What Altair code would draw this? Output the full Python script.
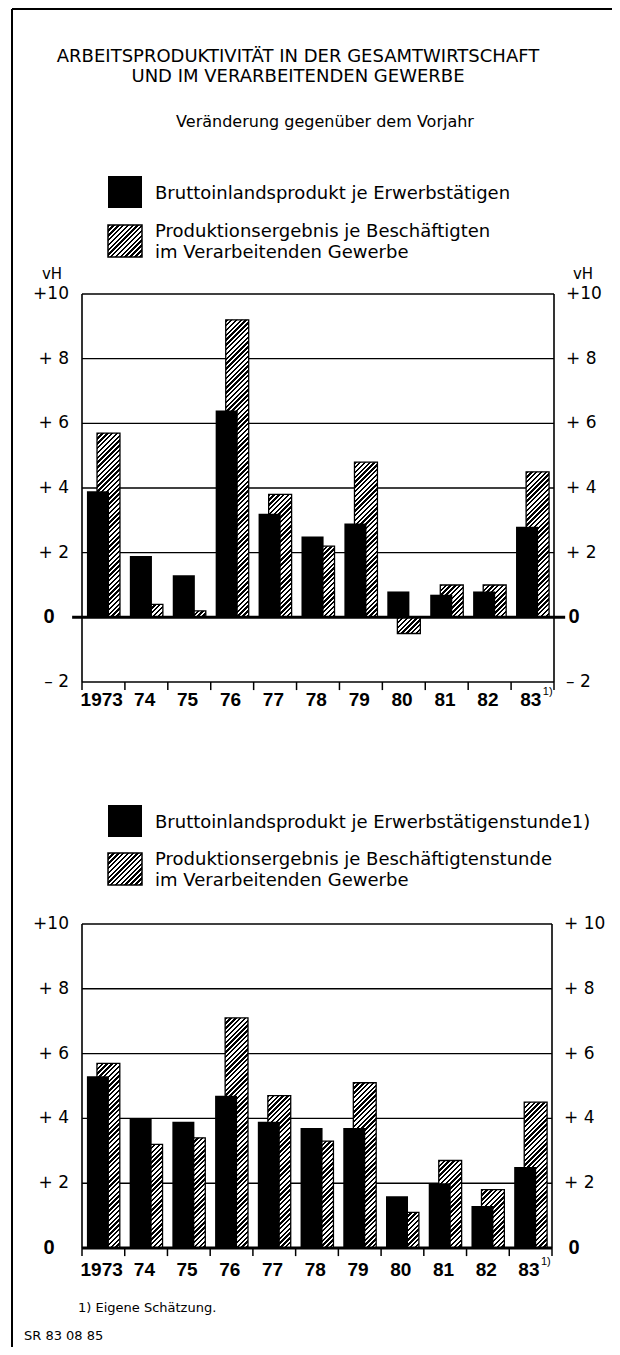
import altair as alt

# ---------------- data ----------------
years = ["1973", "74", "75", "76", "77", "78", "79", "80", "81", "82", "83"]
bip_top = [3.9, 1.9, 1.3, 6.4, 3.2, 2.5, 2.9, 0.8, 0.7, 0.8, 2.8]
prod_top = [5.7, 0.4, 0.2, 9.2, 3.8, 2.2, 4.8, -0.5, 1.0, 1.0, 4.5]
bip_bot = [5.3, 4.0, 3.9, 4.7, 3.9, 3.7, 3.7, 1.6, 2.0, 1.3, 2.5]
prod_bot = [5.7, 3.2, 3.4, 7.1, 4.7, 3.3, 5.1, 1.1, 2.7, 1.8, 4.5]

top_tick_vals = [10, 8, 6, 4, 2, -2]
top_left_text = ["+10", "+  8", "+  6", "+  4", "+  2", "\u2013  2"]
top_right_text = ["+10", "+  8", "+  6", "+  4", "+  2", "\u2013  2"]
top_grid = [2, 4, 6, 8, 10]
bot_tick_vals = [10, 8, 6, 4, 2]
bot_left_text = ["+10", "+  8", "+  6", "+  4", "+  2"]
bot_right_text = ["+ 10", "+  8", "+  6", "+  4", "+  2"]
bot_grid = [2, 4, 6, 8, 10]
boundaries = list(range(0, 12))

TITLE1 = "ARBEITSPRODUKTIVITÄT IN DER GESAMTWIRTSCHAFT"
TITLE2 = "UND IM VERARBEITENDEN GEWERBE"
SUBTITLE = "Veränderung  gegenüber dem Vorjahr"
LEG_TOP_1 = "Bruttoinlandsprodukt je Erwerbstätigen"
LEG_TOP_2 = ["Produktionsergebnis je Beschäftigten", "im Verarbeitenden Gewerbe"]
LEG_BOT_1 = "Bruttoinlandsprodukt je Erwerbstätigenstunde1)"
LEG_BOT_2 = ["Produktionsergebnis je Beschäftigtenstunde", "im Verarbeitenden Gewerbe"]
FOOTNOTE = "1) Eigene Schätzung."
SOURCE = "SR 83 08 85"

# ---------------- layout ----------------
W, H = 604, 1339
SANS = "'DejaVu Sans', sans-serif"
BOLDFONT = "'Liberation Sans', Arial, sans-serif"

XR_TOP = [74, 546]
YR_TOP = [674, 286]      # domain -2..10
XR_BOT = [74, 544]
YR_BOT = [1240, 916]     # domain 0..10

BLACK_X = (0.115, 0.63)
HATCH_X = (0.35, 0.885)


def xscale(r):
    return alt.Scale(domain=[0, 11], range=r, zero=False, nice=False)


def yscale(dom, r):
    return alt.Scale(domain=dom, range=r, zero=False, nice=False)


def hatch(w, h, q=4.8, frac=0.5):
    """Diagonal hatch as a linear gradient in bounding-box units."""
    w = max(w, 1.0)
    h = max(h, 1.0)
    s = w + h
    k = s / (w * w + h * h)
    n = s / q
    stops = []
    j = 0
    while j < n:
        a = round(j / n, 5)
        b = round(min((j + frac) / n, 1.0), 5)
        c = round(min((j + 1) / n, 1.0), 5)
        stops += [
            {"offset": a, "color": "black"},
            {"offset": b, "color": "black"},
            {"offset": b, "color": "white"},
            {"offset": c, "color": "white"},
        ]
        j += 1
    return {"gradient": "linear", "x1": 0, "y1": 0,
            "x2": round(k * w, 5), "y2": round(k * h, 5), "stops": stops}


def blank():
    return alt.Chart(alt.Data(values=[{}]))


def text(t, x, y, size, font=SANS, weight="normal", align="left", baseline="middle"):
    return blank().mark_text(text=t, fontSize=size, font=font, fontWeight=weight,
                             align=align, baseline=baseline, color="black").encode(
        x=alt.value(x), y=alt.value(y))


def panel(bvals, pvals, xr, ydom, yr, tick_vals, left_text, right_text, grid,
          zero_ext, label_y, with_vh):
    xs = xscale(xr)
    ys = yscale(ydom, yr)
    pxu_x = (xr[1] - xr[0]) / 11.0
    pxu_y = (yr[0] - yr[1]) / float(ydom[1] - ydom[0])
    rows = []
    for i, (yl, b, p) in enumerate(zip(years, bvals, pvals)):
        rows.append({"i": i, "year": yl, "bip": b, "prod": p,
                     "grad": hatch((HATCH_X[1] - HATCH_X[0]) * pxu_x, abs(p) * pxu_y)})
    data = alt.Data(values=rows)
    layers = []
    # grid lines
    layers.append(alt.Chart(alt.Data(values=[{"v": g} for g in grid])).mark_rule(
        color="black", strokeWidth=1.4).encode(
        y=alt.Y("v:Q", scale=ys, axis=None),
        x=alt.X(datum=0, scale=xs, axis=None), x2=alt.X2(datum=11)))
    # hatched bars
    layers.append(alt.Chart(data).transform_calculate(
        xa="datum.i + %f" % HATCH_X[0], xb="datum.i + %f" % HATCH_X[1]).mark_rect(
        stroke="black", strokeWidth=1.3).encode(
        x=alt.X("xa:Q", scale=xs, axis=None), x2="xb:Q",
        y=alt.Y("prod:Q", scale=ys, axis=None), y2=alt.Y2(datum=0),
        fill=alt.Fill("grad:N", scale=None, legend=None)))
    # black bars
    layers.append(alt.Chart(data).transform_calculate(
        xa="datum.i + %f" % BLACK_X[0], xb="datum.i + %f" % BLACK_X[1]).mark_rect(
        color="black").encode(
        x=alt.X("xa:Q", scale=xs, axis=None), x2="xb:Q",
        y=alt.Y("bip:Q", scale=ys, axis=None), y2=alt.Y2(datum=0)))
    # frame of the plot: bottom line, verticals
    layers.append(blank().mark_rule(color="black", strokeWidth=1.6).encode(
        y=alt.Y(datum=ydom[0], scale=ys, axis=None),
        x=alt.X(datum=0, scale=xs, axis=None), x2=alt.X2(datum=11)))
    layers.append(alt.Chart(alt.Data(values=[{"b": 0}, {"b": 11}])).mark_rule(
        color="black", strokeWidth=1.6).encode(
        x=alt.X("b:Q", scale=xs, axis=None),
        y=alt.Y(datum=ydom[0], scale=ys, axis=None), y2=alt.Y2(datum=10)))
    # zero line
    layers.append(blank().mark_rule(color="black", strokeWidth=3).encode(
        y=alt.Y(datum=0, scale=ys, axis=None),
        x=alt.X(datum=zero_ext[0], scale=xs, axis=None), x2=alt.X2(datum=zero_ext[1])))
    # x ticks (below the lower line)
    layers.append(alt.Chart(alt.Data(values=[{"b": b} for b in boundaries])).transform_calculate(
        ya=str(ydom[0]), yb=str(ydom[0] - 0.25)).mark_rule(
        color="black", strokeWidth=1.5).encode(
        x=alt.X("b:Q", scale=xs, axis=None),
        y=alt.Y("ya:Q", scale=ys, axis=None), y2="yb:Q"))
    # year labels
    layers.append(alt.Chart(data).transform_calculate(c="datum.i + 0.46").mark_text(
        font=BOLDFONT, fontSize=19, fontWeight="bold", baseline="middle", align="center",
        color="black").encode(
        x=alt.X("c:Q", scale=xs, axis=None), y=alt.value(label_y), text="year:N"))
    layers.append(alt.Chart(alt.Data(values=[{"c": 10.46}])).mark_text(
        text="1)", font=BOLDFONT, fontSize=11, baseline="middle", align="left",
        dx=12, color="black").encode(
        x=alt.X("c:Q", scale=xs, axis=None), y=alt.value(label_y - 8)))
    # y tick labels
    lrows = [{"v": v, "t": t} for v, t in zip(tick_vals, left_text)]
    rrows = [{"v": v, "t": t} for v, t in zip(tick_vals, right_text)]
    layers.append(alt.Chart(alt.Data(values=lrows)).mark_text(
        font=SANS, fontSize=17, align="right", baseline="middle", color="black").encode(
        x=alt.value(61), y=alt.Y("v:Q", scale=ys, axis=None), text="t:N"))
    layers.append(alt.Chart(alt.Data(values=rrows)).mark_text(
        font=SANS, fontSize=17, align="left", baseline="middle", color="black").encode(
        x=alt.value(xr[1] + 12), y=alt.Y("v:Q", scale=ys, axis=None), text="t:N"))
    for xpos in (41, 566):
        layers.append(alt.Chart(alt.Data(values=[{"v": 0, "t": "0"}])).mark_text(
            font=BOLDFONT, fontSize=20, fontWeight="bold", align="center", baseline="middle",
            color="black").encode(
            x=alt.value(xpos), y=alt.Y("v:Q", scale=ys, axis=None), text="t:N"))
    if with_vh:
        layers.append(text("vH", 44, 266, 15, align="center"))
        layers.append(text("vH", 575, 266, 15, align="center"))
    return layers


def legend(y_black, y_hatch, t1, t2):
    L = []
    L.append(blank().mark_rect(color="black").encode(
        x=alt.value(100), x2=alt.value(134), y=alt.value(y_black), y2=alt.value(y_black + 32)))
    L.append(blank().mark_rect(fill=hatch(34, 32), stroke="black", strokeWidth=1.5).encode(
        x=alt.value(100), x2=alt.value(134), y=alt.value(y_hatch), y2=alt.value(y_hatch + 32)))
    L.append(text(t1, 147, y_black + 18, 18))
    L.append(text(t2[0], 147, y_hatch + 7, 18))
    L.append(text(t2[1], 147, y_hatch + 28, 18))
    return L


layers = []
# outer frame (top and left edges)
layers.append(blank().mark_rule(color="black", strokeWidth=2).encode(
    x=alt.value(4), x2=alt.value(604), y=alt.value(1)))
layers.append(blank().mark_rule(color="black", strokeWidth=2).encode(
    x=alt.value(4), y=alt.value(1), y2=alt.value(1339)))
# titles
layers.append(text(TITLE1, 290, 49, 18, align="center"))
layers.append(text(TITLE2, 290, 69, 18, align="center"))
layers.append(text(SUBTITLE, 317, 114, 16, align="center"))
# legends
layers += legend(168, 217, LEG_TOP_1, LEG_TOP_2)
layers += legend(797, 845, LEG_BOT_1, LEG_BOT_2)
# panels
layers += panel(bip_top, prod_top, XR_TOP, [-2, 10], YR_TOP, top_tick_vals,
                top_left_text, top_right_text, top_grid, (-0.23, 11.26), 692, True)
layers += panel(bip_bot, prod_bot, XR_BOT, [0, 10], YR_BOT, bot_tick_vals,
                bot_left_text, bot_right_text, bot_grid, (0, 11), 1262, False)
# footnote / source
layers.append(text(FOOTNOTE, 70, 1300, 13))
layers.append(text(SOURCE, 16, 1328, 13))

chart = alt.layer(*layers).resolve_scale(x="independent", y="independent").properties(
    width=W, height=H, padding=0,
    autosize=alt.AutoSizeParams(type="none"),
    background="white",
).configure_view(stroke=None)

chart.save("out.html", embed_options={"renderer": "svg", "actions": False})
